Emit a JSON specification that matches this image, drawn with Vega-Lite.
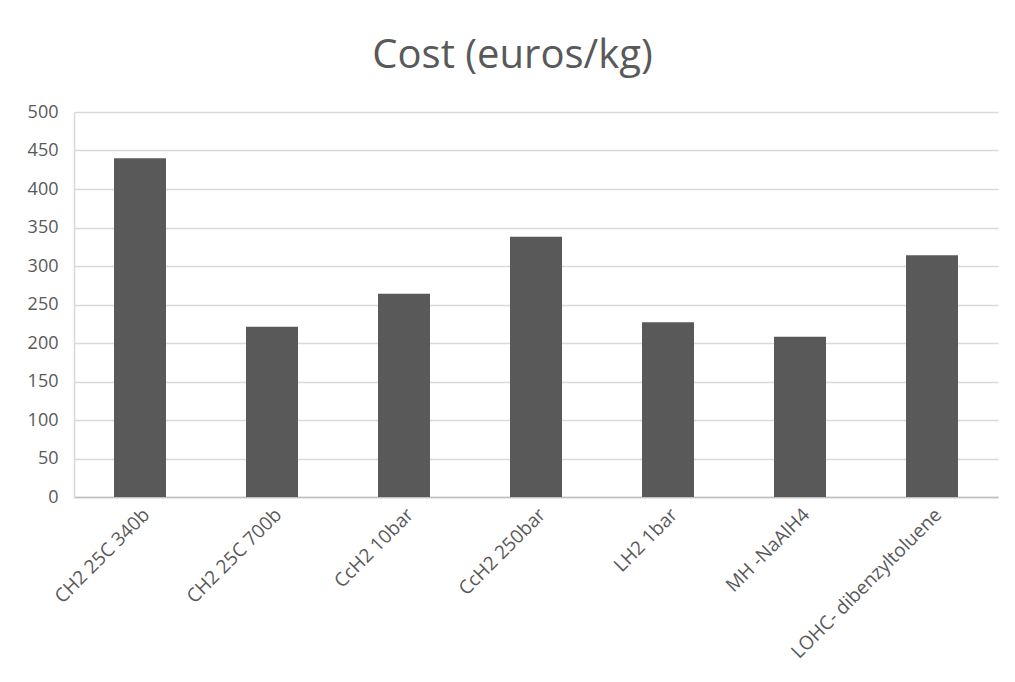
{
  "$schema": "https://vega.github.io/schema/vega-lite/v6.json",
  "autosize": {"type": "none"},
  "width": 924,
  "height": 385,
  "padding": {"left": 74, "top": 112, "right": 17, "bottom": 185},
  "background": "white",
  "title": {
    "text": "Cost (euros/kg)",
    "font": "Open Sans",
    "fontSize": 40,
    "fontWeight": "normal",
    "color": "#595959",
    "anchor": "middle",
    "frame": "bounds",
    "baseline": "alphabetic",
    "offset": -5
  },
  "data": {
    "values": [
      {"category": "CH2 25C 340b", "cost": 440},
      {"category": "CH2 25C 700b", "cost": 221},
      {"category": "CcH2 10bar", "cost": 264},
      {"category": "CcH2  250bar", "cost": 338},
      {"category": "LH2 1bar", "cost": 227},
      {"category": "MH -NaAlH4", "cost": 208},
      {"category": "LOHC- dibenzyltoluene", "cost": 314}
    ]
  },
  "mark": {"type": "bar", "color": "#595959"},
  "encoding": {
    "x": {
      "field": "category",
      "type": "nominal",
      "sort": null,
      "scale": {"paddingInner": 0.606, "paddingOuter": 0.303},
      "axis": {
        "title": null,
        "labelAngle": -45,
        "labelFont": "Open Sans",
        "labelFontSize": 19,
        "labelColor": "#595959",
        "labelPadding": 8,
        "ticks": false,
        "domainColor": "#bfbfbf",
        "domainWidth": 1.5,
        "labelLimit": 300
      }
    },
    "y": {
      "field": "cost",
      "type": "quantitative",
      "scale": {"domain": [0, 500]},
      "axis": {
        "title": null,
        "values": [0, 50, 100, 150, 200, 250, 300, 350, 400, 450, 500],
        "labelFont": "Open Sans",
        "labelFontSize": 18,
        "labelColor": "#595959",
        "labelPadding": 16,
        "ticks": false,
        "domainColor": "#d9d9d9",
        "domainWidth": 1.5,
        "gridColor": "#d9d9d9",
        "gridWidth": 1.5
      }
    }
  },
  "config": {"view": {"stroke": null}}
}
